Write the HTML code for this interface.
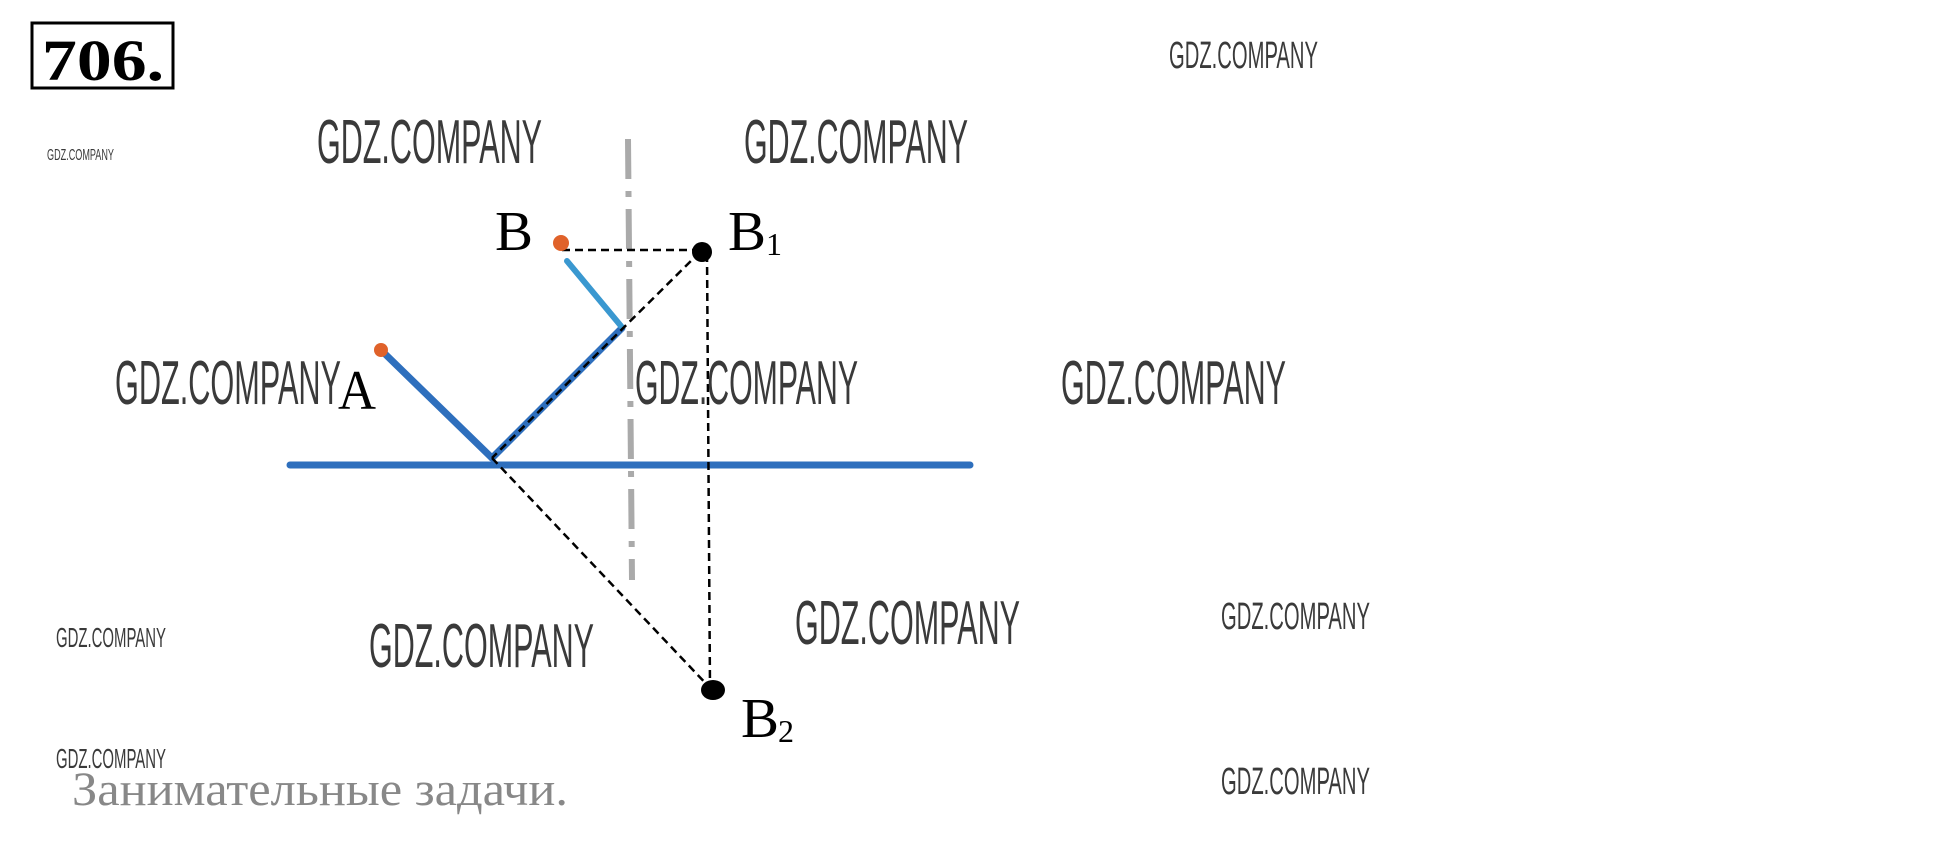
<!DOCTYPE html>
<html><head><meta charset="utf-8"><style>
html,body{margin:0;padding:0;background:#fff;}
svg{display:block;}
.w{font-family:"Liberation Sans Narrow","Liberation Sans",sans-serif;fill:#3a3a3a;}
.s{font-family:"Liberation Serif",serif;fill:#000;}
</style></head><body>
<svg width="1934" height="866" viewBox="0 0 1934 866" xmlns="http://www.w3.org/2000/svg">
<rect x="32" y="23" width="141" height="65" fill="none" stroke="#000" stroke-width="3"/>
<text x="42" y="80" class="s" font-size="58" font-weight="bold" textLength="122" lengthAdjust="spacingAndGlyphs">706.</text>

<line x1="628" y1="139" x2="632" y2="580" stroke="#aaa" stroke-width="6" stroke-dasharray="40,12,6,12"/>
<line x1="290" y1="465" x2="970" y2="465" stroke="#2e6fbd" stroke-width="7" stroke-linecap="round"/>
<line x1="383" y1="352" x2="492" y2="458" stroke="#2e6fbd" stroke-width="7" stroke-linecap="round"/>
<line x1="492" y1="458" x2="622" y2="328" stroke="#2e6fbd" stroke-width="7" stroke-linecap="round"/>
<line x1="567" y1="261" x2="621" y2="326" stroke="#3a98d0" stroke-width="6" stroke-linecap="round"/>

<g stroke="#000" stroke-width="2.5" stroke-dasharray="8,5" fill="none">
<line x1="562" y1="250" x2="700" y2="250"/>
<line x1="700" y1="252" x2="492" y2="458"/>
<line x1="492" y1="458" x2="712" y2="690"/>
<line x1="707" y1="254" x2="710" y2="688"/>
</g>
<circle cx="381" cy="350" r="7" fill="#e0622a"/>
<circle cx="561" cy="243" r="8" fill="#e0622a"/>
<circle cx="702" cy="252" r="10" fill="#000"/>
<ellipse cx="713" cy="690" rx="12" ry="10" fill="#000"/>

<text x="495" y="250" class="s" font-size="56" textLength="38" lengthAdjust="spacingAndGlyphs">B</text>
<text x="728" y="250" class="s" font-size="56" textLength="38" lengthAdjust="spacingAndGlyphs">B</text><text x="766" y="255" class="s" font-size="32">1</text>
<text x="338" y="409" class="s" font-size="56" textLength="38" lengthAdjust="spacingAndGlyphs">A</text>
<text x="741" y="737" class="s" font-size="56" textLength="38" lengthAdjust="spacingAndGlyphs">B</text><text x="778" y="742" class="s" font-size="32">2</text>
<text x="72" y="805" font-family="Liberation Serif,'Noto Serif CJK SC',serif" font-size="48" fill="#888" textLength="496" lengthAdjust="spacingAndGlyphs">Занимательные задачи.</text>

<g class="w" font-size="62">
<text x="317" y="163" textLength="225" lengthAdjust="spacingAndGlyphs">GDZ.COMPANY</text>
<text x="744" y="163" textLength="224" lengthAdjust="spacingAndGlyphs">GDZ.COMPANY</text>
<text x="115" y="404" textLength="226" lengthAdjust="spacingAndGlyphs">GDZ.COMPANY</text>
<text x="635" y="404" textLength="223" lengthAdjust="spacingAndGlyphs">GDZ.COMPANY</text>
<text x="1061" y="404" textLength="225" lengthAdjust="spacingAndGlyphs">GDZ.COMPANY</text>
<text x="369" y="667" textLength="225" lengthAdjust="spacingAndGlyphs">GDZ.COMPANY</text>
<text x="795" y="644" textLength="225" lengthAdjust="spacingAndGlyphs">GDZ.COMPANY</text>
</g>
<g class="w" font-size="38">
<text x="1169" y="68" textLength="149" lengthAdjust="spacingAndGlyphs">GDZ.COMPANY</text>
<text x="1221" y="629" textLength="149" lengthAdjust="spacingAndGlyphs">GDZ.COMPANY</text>
<text x="1221" y="794" textLength="149" lengthAdjust="spacingAndGlyphs">GDZ.COMPANY</text>
</g>
<g class="w" font-size="28">
<text x="56" y="647" textLength="110" lengthAdjust="spacingAndGlyphs">GDZ.COMPANY</text>
<text x="56" y="768" textLength="110" lengthAdjust="spacingAndGlyphs">GDZ.COMPANY</text>
</g>
<text x="47" y="160" class="w" font-size="16" textLength="67" lengthAdjust="spacingAndGlyphs">GDZ.COMPANY</text>
</svg>
</body></html>
